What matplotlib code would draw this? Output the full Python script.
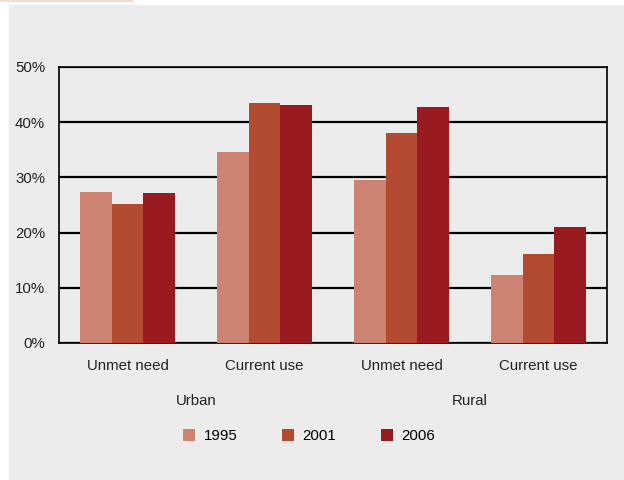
import matplotlib
matplotlib.use("Agg")
import matplotlib.pyplot as plt
import numpy as np
from matplotlib.patches import Rectangle

plt.rcParams['font.family'] = ['Liberation Sans', 'DejaVu Sans']

categories = ["Unmet need", "Current use", "Unmet need", "Current use"]
areas = ["Urban", "Rural"]
years = ["1995", "2001", "2006"]
values_1995 = [27.4, 34.6, 29.5, 12.4]
values_2001 = [25.2, 43.5, 38.0, 16.1]
values_2006 = [27.2, 43.1, 42.7, 21.0]
yticks = [0, 10, 20, 30, 40, 50]

colors = ["#cc8371", "#b34a32", "#981c1f"]
bg = "#ececec"
fs = 10.8

fig = plt.figure(figsize=(6.24, 4.8), dpi=100)
fig.patch.set_facecolor("white")
# light panel behind the chart
fig.patches.append(Rectangle((9 / 624, 0), 1, 1 - 5 / 480, transform=fig.transFigure,
                             facecolor=bg, edgecolor="none", zorder=-10))
# thin accent strip at the top left
fig.patches.append(Rectangle((0, 1 - 2 / 480), 133 / 624, 2 / 480, transform=fig.transFigure,
                             facecolor="#f6dccb", edgecolor="none", zorder=-9))

ax = fig.add_axes([59 / 624, 1 - 343 / 480, 548 / 624, 276 / 480])
ax.set_facecolor(bg)

x = np.arange(len(categories))
w = 0.23
series = [values_1995, values_2001, values_2006]
for i, (vals, c, lab) in enumerate(zip(series, colors, years)):
    ax.bar(x + (i - 1) * w, vals, width=w, color=c, label=lab, zorder=3,
           edgecolor="none")

ax.set_xlim(-0.5, len(categories) - 0.5)
ax.set_ylim(0, 50)
ax.set_yticks(yticks)
ax.set_yticklabels([f"{v}%" for v in yticks], fontsize=fs, color="#222222")
ax.set_xticks(x)
ax.set_xticklabels(categories, fontsize=fs, color="#222222")
ax.tick_params(length=0)
ax.tick_params(axis="y", pad=10)
ax.tick_params(axis="x", pad=11.5)
ax.yaxis.grid(True, color="black", linewidth=1.6, zorder=1)
for s in ax.spines.values():
    s.set_color("black")
    s.set_linewidth(1.2)

# area group labels under each pair of categories
for j, area in enumerate(areas):
    ax.text(2 * j + 0.5, -0.21, area, transform=ax.get_xaxis_transform(),
            ha="center", va="center", fontsize=fs, color="#222222")

leg = fig.legend(loc="center", bbox_to_anchor=(309 / 624, 1 - 436 / 480), ncol=3,
                 frameon=False, fontsize=fs, handlelength=0.8, handleheight=0.8,
                 handletextpad=0.6, columnspacing=2.95)

fig.savefig("out.png", dpi=100, facecolor=fig.get_facecolor())
